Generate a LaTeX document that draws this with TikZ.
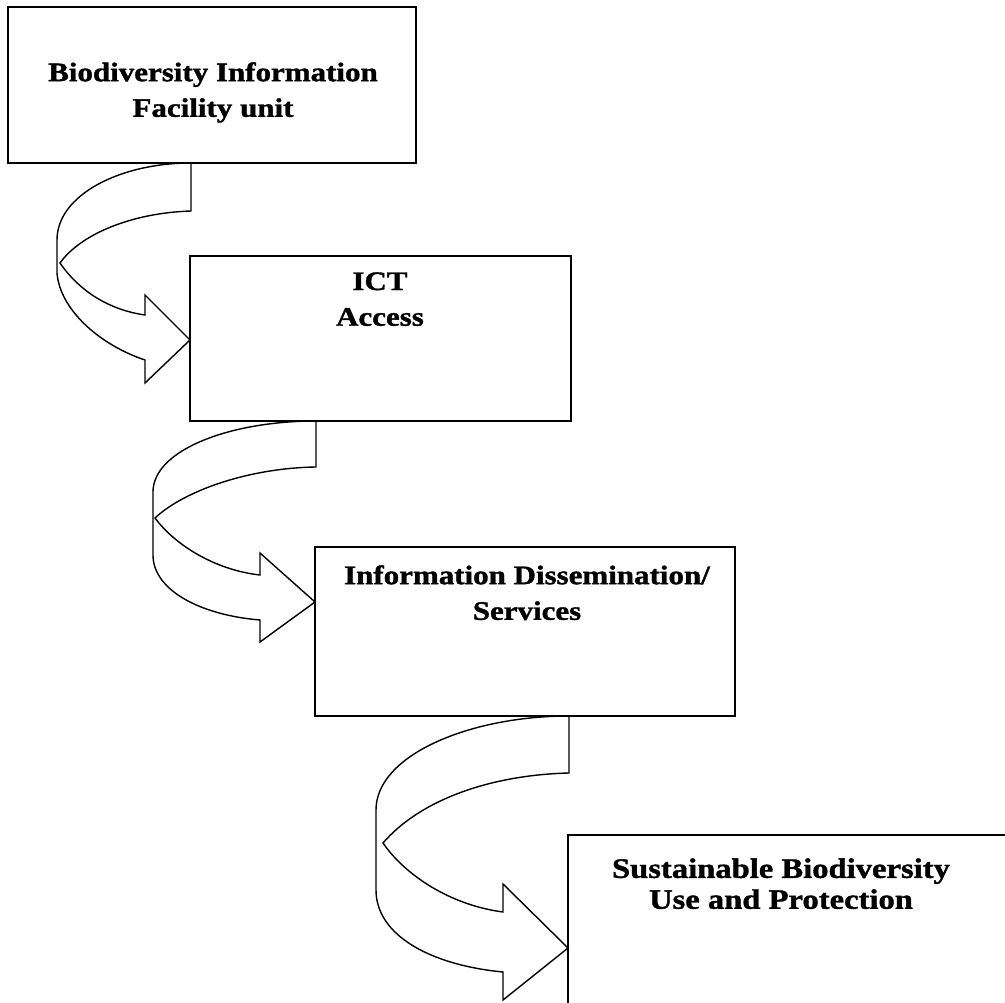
\documentclass[tikz,border=0pt]{standalone}
\usepackage{fontspec}
\setmainfont[FakeStretch=1.16, BoldFeatures={FakeBold=1.3}]{Liberation Serif}
\usetikzlibrary{fit}
\begin{document}
\begin{tikzpicture}[x=0.02cm,y=-0.02cm,
  box/.style={draw, line width=1.2pt, rectangle, inner sep=0pt},
  lbl/.style={font=\bfseries\fontsize{15.2}{20.3}\selectfont, align=center, anchor=north, inner sep=0pt},
  band/.style={draw, line width=0.8pt, line join=miter}]
\clip (0,0) rectangle (1005,1003);
\fill[white] (0,0) rectangle (1005,1003);
% curved block arrows
\draw[band] (60,263) .. controls (80,235) and (130,213) .. (191,211) -- (191,163)
  .. controls (120,163) and (57,195) .. (57,240) -- (57,273)
  .. controls (60,310) and (100,345) .. (145,360) -- (145,383) -- (190,340) -- (145,295) -- (145,315)
  .. controls (110,310) and (80,292) .. (60,263) -- cycle;
\draw[band] (155,518) .. controls (185,490) and (250,468) .. (316,467) -- (316,421)
  .. controls (230,421) and (153,450) .. (153,492) -- (153,555)
  .. controls (153,590) and (200,615) .. (260,620) -- (260,642) -- (315,602) -- (260,553) -- (260,575)
  .. controls (215,570) and (175,545) .. (155,518) -- cycle;
\draw[band] (383,843) .. controls (420,800) and (490,775) .. (569,773) -- (569,716)
  .. controls (470,716) and (376,755) .. (376,810) -- (376,890)
  .. controls (376,935) and (430,965) .. (503,972) -- (503,1000) -- (568,948) -- (503,884) -- (503,912)
  .. controls (450,905) and (405,875) .. (383,843) -- cycle;
% boxes
\node[box, fit={(8,7) (416,163)}] (b1) {};
\node[box, fit={(190,256) (571,421)}] (b2) {};
\node[box, fit={(315,547) (735,716)}] (b3) {};
\node[box, fit={(568,835) (1040,1040)}] (b4) {};
% labels
\node[lbl] (t1) at (213,62) {Biodiversity Information\\Facility unit};
\node[lbl] (t2) at (380,272) {ICT\\Access};
\node[lbl] (t3) at (527,565) {Information Dissemination/\\Services};
\node[lbl, font=\bfseries\fontsize{16}{17.6}\selectfont] (t4) at (781,858) {Sustainable Biodiversity\\Use and Protection};
\end{tikzpicture}
\end{document}
